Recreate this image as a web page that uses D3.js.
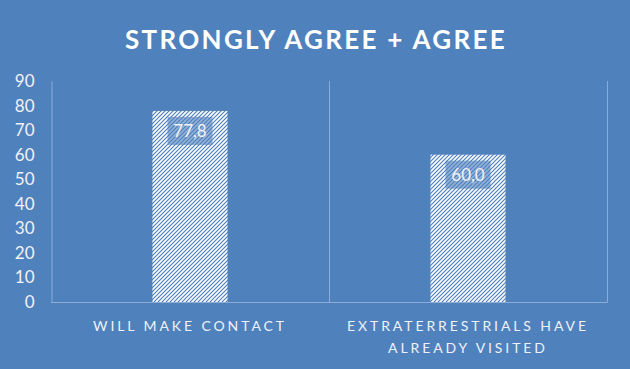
<!DOCTYPE html>
<html>
<head>
<meta charset="utf-8">
<script src="https://cdn.jsdelivr.net/npm/d3@7"></script>
<style>
  body { margin: 0; background: #4f81bd; }
  svg { display: block; font-family: Lato, "Open Sans", sans-serif; }
</style>
</head>
<body>
<div class="chart"></div>
<script>
// chart data
let categories = [["WILL MAKE CONTACT"], ["EXTRATERRESTRIALS HAVE", "ALREADY VISITED"]];
let values = [77.8, 60.0];
let yTicks = [0, 10, 20, 30, 40, 50, 60, 70, 80, 90];
let TITLE = "STRONGLY AGREE + AGREE";

const FRAME_WIDTH = 630;
const FRAME_HEIGHT = 369;
const MARGINS = {left: 51, right: 23, top: 81, bottom: 67};

let svg = d3.select(".chart")
  .append("svg")
  .attr("width", FRAME_WIDTH)
  .attr("height", FRAME_HEIGHT);

svg.append("rect")
  .attr("width", FRAME_WIDTH)
  .attr("height", FRAME_HEIGHT)
  .attr("fill", "#4f81bd");

// hatched fill for the bars
let pat = svg.append("defs").append("pattern")
  .attr("id", "hatch")
  .attr("patternUnits", "userSpaceOnUse")
  .attr("width", 4)
  .attr("height", 4);
pat.append("rect").attr("width", 4).attr("height", 4).attr("fill", "#ffffff");
pat.append("path")
  .attr("d", "M-1,1 l2,-2 M0,4 l4,-4 M3,5 l2,-2")
  .attr("stroke", "#4f81bd")
  .attr("stroke-width", 1.2);

const plotW = FRAME_WIDTH - MARGINS.left - MARGINS.right;
const plotH = FRAME_HEIGHT - MARGINS.top - MARGINS.bottom;

let xScale = d3.scaleBand()
  .domain(d3.range(categories.length))
  .range([MARGINS.left, MARGINS.left + plotW])
  .paddingInner(0)
  .paddingOuter(0);

let yScale = d3.scaleLinear()
  .domain([0, 90])
  .range([MARGINS.top + plotH, MARGINS.top]);

// title
svg.append("text")
  .attr("x", FRAME_WIDTH / 2 + 1)
  .attr("y", 49)
  .attr("text-anchor", "middle")
  .attr("fill", "#ffffff")
  .attr("font-size", "26px")
  .attr("font-weight", "bold")
  .attr("letter-spacing", "2.3px")
  .text(TITLE);

// vertical category dividers
let lineColor = "#8eaad6";
xScale.domain().forEach(function(i) {
  let xr = xScale(i) + xScale.bandwidth();
  svg.append("line")
    .attr("x1", xr + 0.5).attr("x2", xr + 0.5)
    .attr("y1", MARGINS.top).attr("y2", MARGINS.top + plotH)
    .attr("stroke", lineColor);
});

// y axis
let yAxis = svg.append("g")
  .attr("transform", "translate(" + (MARGINS.left + 0.5) + ",0)")
  .call(d3.axisLeft(yScale).tickValues(yTicks).tickSize(0).tickPadding(17));
yAxis.select(".domain").attr("stroke", lineColor);
yAxis.selectAll("text")
  .attr("fill", "#f2f2f2")
  .attr("font-size", "17px")
  .attr("font-family", "Lato, sans-serif");

// x axis line
svg.append("line")
  .attr("x1", MARGINS.left).attr("x2", MARGINS.left + plotW + 0.5)
  .attr("y1", yScale(0) + 0.5).attr("y2", yScale(0) + 0.5)
  .attr("stroke", lineColor);

// bars
const barW = xScale.bandwidth() * 0.27;
svg.selectAll(".bar")
  .data(values)
  .enter().append("rect")
  .attr("class", "bar")
  .attr("x", (d, i) => xScale(i) + (xScale.bandwidth() - barW) / 2)
  .attr("y", d => yScale(d))
  .attr("width", barW)
  .attr("height", d => yScale(0) - yScale(d))
  .attr("fill", "url(#hatch)");

// value labels
values.forEach(function(v, i) {
  let cx = xScale(i) + xScale.bandwidth() / 2;
  let top = yScale(v) + 6;
  svg.append("rect")
    .attr("x", cx - 22.5)
    .attr("y", top)
    .attr("width", 45)
    .attr("height", 28)
    .attr("fill", "#4f81bd")
    .attr("fill-opacity", 0.62);
  svg.append("text")
    .attr("x", cx)
    .attr("y", top + 20.5)
    .attr("text-anchor", "middle")
    .attr("fill", "#f2f2f2")
    .attr("font-size", "17px")
    .text(v.toFixed(1).replace(".", ","));
});

// category labels
categories.forEach(function(lines, i) {
  let cx = xScale(i) + xScale.bandwidth() / 2;
  lines.forEach(function(t, j) {
    svg.append("text")
      .attr("x", cx)
      .attr("y", 331 + j * 22)
      .attr("text-anchor", "middle")
      .attr("fill", "#eef2f8")
      .attr("font-size", "14px")
      .attr("letter-spacing", "2.9px")
      .text(t);
  });
});
</script>
</body>
</html>
